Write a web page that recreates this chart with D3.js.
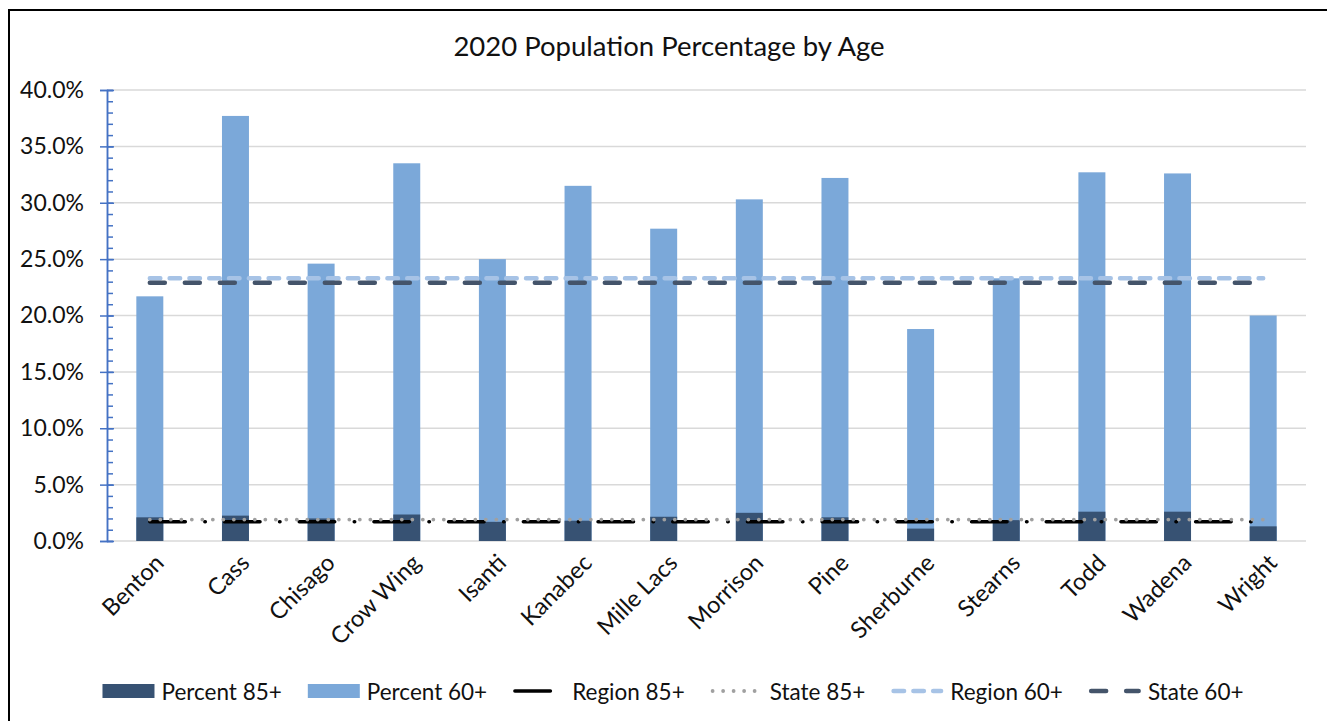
<!DOCTYPE html>
<html>
<head>
<meta charset="utf-8">
<script src="https://cdn.jsdelivr.net/npm/d3@7"></script>
<style>
  body { margin: 0; background: #fff; }
  svg text { font-family: Lato, "Open Sans", sans-serif; fill: #111; }
</style>
</head>
<body>
<div class="chart"></div>
<script>
// county data (percent)
const counties = ['Benton', 'Cass', 'Chisago', 'Crow Wing', 'Isanti', 'Kanabec', 'Mille Lacs',
  'Morrison', 'Pine', 'Sherburne', 'Stearns', 'Todd', 'Wadena', 'Wright'];
const percent85 = [2.1, 2.25, 2.0, 2.35, 1.7, 1.8, 2.15, 2.5, 2.1, 1.1, 1.85, 2.6, 2.6, 1.3];
const percent60 = [21.7, 37.7, 24.6, 33.5, 25.0, 31.5, 27.7, 30.3, 32.2, 18.8, 23.3, 32.7, 32.6, 20.0];
const region85 = [1.7, 1.7, 1.7, 1.7, 1.7, 1.7, 1.7, 1.7, 1.7, 1.7, 1.7, 1.7, 1.7, 1.7];
const state85 = [1.9, 1.9, 1.9, 1.9, 1.9, 1.9, 1.9, 1.9, 1.9, 1.9, 1.9, 1.9, 1.9, 1.9];
const region60 = [23.3, 23.3, 23.3, 23.3, 23.3, 23.3, 23.3, 23.3, 23.3, 23.3, 23.3, 23.3, 23.3, 23.3];
const state60 = [22.9, 22.9, 22.9, 22.9, 22.9, 22.9, 22.9, 22.9, 22.9, 22.9, 22.9, 22.9, 22.9, 22.9];
const yTicks = [0, 5, 10, 15, 20, 25, 30, 35, 40];
const yMinorTicks = d3.range(0, 41, 1);

const W = 1327, H = 721;
const plot = { left: 107, right: 1306, top: 90, bottom: 541 };

const svg = d3.select('.chart').append('svg').attr('width', W).attr('height', H);

// chart frame (runs off the right and bottom of the picture)
svg.append('rect')
  .attr('x', 9).attr('y', 10).attr('width', 1340).attr('height', 740)
  .attr('fill', '#fff').attr('stroke', '#000').attr('stroke-width', 2);

const x = d3.scaleBand().domain(counties).range([plot.left, plot.right]);
const y = d3.scaleLinear().domain([0, 40]).range([plot.bottom, plot.top]);
const barW = x.bandwidth() * 0.315;
const cx = d => x(d) + x.bandwidth() / 2;

svg.append('text')
  .attr('x', 669).attr('y', 45)
  .attr('text-anchor', 'middle').attr('dominant-baseline', 'central')
  .style('font-size', '27.5px')
  .text('2020 Population Percentage by Age');

// gridlines
svg.append('g')
  .selectAll('line')
  .data(yTicks)
  .enter()
  .append('line')
  .attr('x1', plot.left).attr('x2', plot.right)
  .attr('y1', d => y(d)).attr('y2', d => y(d))
  .attr('stroke', '#d9d9d9').attr('stroke-width', 1.5);

// bars: 60+ behind, 85+ in front
svg.append('g')
  .selectAll('rect')
  .data(counties)
  .enter()
  .append('rect')
  .attr('x', d => cx(d) - barW / 2)
  .attr('width', barW)
  .attr('y', (d, i) => y(percent60[i]))
  .attr('height', (d, i) => y(0) - y(percent60[i]))
  .attr('fill', '#7BA8D9');

svg.append('g')
  .selectAll('rect')
  .data(counties)
  .enter()
  .append('rect')
  .attr('x', d => cx(d) - barW / 2)
  .attr('width', barW)
  .attr('y', (d, i) => y(percent85[i]))
  .attr('height', (d, i) => y(0) - y(percent85[i]))
  .attr('fill', '#375273');

// y axis: minor ticks inside, major ticks crossing
const yMinor = svg.append('g').attr('transform', `translate(${plot.left},0)`)
  .call(d3.axisRight(y).tickValues(yMinorTicks).tickSize(6).tickFormat(''));
const yAxis = svg.append('g').attr('transform', `translate(${plot.left},0)`)
  .call(d3.axisLeft(y).tickValues(yTicks).tickSize(7).tickPadding(16)
    .tickFormat(d => d3.format('.1f')(d) + '%'));
yAxis.selectAll('.tick line').attr('x2', -7).attr('x1', 7);
[yMinor, yAxis].forEach(g => {
  g.selectAll('.domain').attr('stroke', '#4472C4').attr('stroke-width', 1.5);
  g.selectAll('.tick line').attr('stroke', '#4472C4').attr('stroke-width', 1.5);
});
yAxis.selectAll('.tick text')
  .style('font-size', '23px').style('font-family', 'Lato').attr('fill', '#111');

// x labels
svg.append('g')
  .selectAll('text')
  .data(counties)
  .enter()
  .append('text')
  .attr('transform', d => `translate(${cx(d) + 9},${plot.bottom + 17}) rotate(-45)`)
  .attr('text-anchor', 'end')
  .attr('dominant-baseline', 'central')
  .style('font-size', '23.5px')
  .text(d => d);

// reference lines
const lineStyles = [
  { name: 'Region 85+', data: region85, color: '#000', width: 3.5, dash: '35.5 19.5 0.5 19.2' },
  { name: 'State 85+', data: state85, color: '#A0A0A0', width: 3.8, dash: '0 10.5' },
  { name: 'Region 60+', data: region60, color: '#A7C3E6', width: 4.5, dash: '10.5 9.3' },
  { name: 'State 60+', data: state60, color: '#44546A', width: 4.5, dash: '15 20' }
];

const line = d3.line().x((d, i) => cx(counties[i])).y(d => y(d));

lineStyles.forEach(s => {
  svg.append('path')
    .attr('d', line(s.data))
    .attr('fill', 'none')
    .attr('stroke', s.color)
    .attr('stroke-width', s.width)
    .attr('stroke-linecap', 'round')
    .attr('stroke-dasharray', s.dash);
});

// legend
const legendItems = [
  { name: 'Percent 85+', type: 'rect', color: '#375273' },
  { name: 'Percent 60+', type: 'rect', color: '#7BA8D9' }
].concat(lineStyles.map(s => Object.assign({ type: 'line' }, s)));

const legend = svg.append('g');
let lx = 0;
legendItems.forEach(item => {
  const g = legend.append('g').attr('transform', `translate(${lx},0)`);
  if (item.type === 'rect') {
    g.append('rect').attr('x', 0).attr('y', -7).attr('width', 52).attr('height', 14).attr('fill', item.color);
  } else {
    g.append('line')
      .attr('x1', item.width / 2).attr('x2', 52 - item.width / 2).attr('y1', 0).attr('y2', 0)
      .attr('stroke', item.color).attr('stroke-width', item.width)
      .attr('stroke-linecap', 'round').attr('stroke-dasharray', item.dash);
  }
  const t = g.append('text')
    .attr('x', 59).attr('y', 0)
    .attr('dominant-baseline', 'central')
    .style('font-size', '22.5px')
    .text(item.name);
  lx += 59 + t.node().getComputedTextLength() + 26;
});
const legendW = lx - 26;
legend.attr('transform', `translate(${673 - legendW / 2},691)`);
</script>
</body>
</html>
